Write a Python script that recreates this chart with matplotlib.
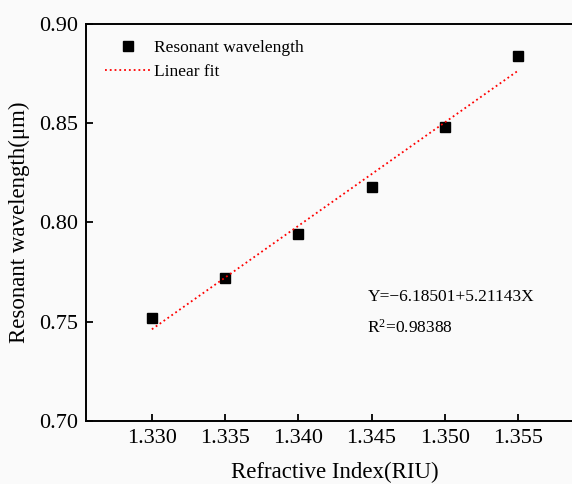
import numpy as np
import matplotlib
matplotlib.use("Agg")
import matplotlib.pyplot as plt

# data
ri = [1.330, 1.335, 1.340, 1.345, 1.350, 1.355]
wavelength = [0.752, 0.772, 0.794, 0.818, 0.848, 0.884]
fit_intercept = -6.18501
fit_slope = 5.21143
r_squared = 0.98388
xticks = [1.330, 1.335, 1.340, 1.345, 1.350, 1.355]
yticks = [0.70, 0.75, 0.80, 0.85, 0.90]

plt.rcParams['font.family'] = ['Liberation Serif', 'DejaVu Serif']
plt.rcParams['mathtext.fontset'] = 'custom'
plt.rcParams['mathtext.rm'] = 'Liberation Serif'
plt.rcParams['mathtext.it'] = 'Liberation Serif:italic'

fig = plt.figure(figsize=(5.72, 4.84), dpi=100, facecolor='#fafafa')
ax = fig.add_axes([0.1503, 0.1302, 0.8706, 0.8202])
ax.set_facecolor('#fafafa')

xfit = np.array([ri[0], ri[-1]])
yfit = fit_intercept + fit_slope * xfit

ax.plot(ri, wavelength, 's', color='black', markersize=7, label='Resonant wavelength')
ax.plot(xfit, yfit, ':', color='red', linewidth=1.3, label='Linear fit')

ax.set_xlim(1.3255, 1.3595)
ax.set_ylim(0.70, 0.90)
ax.set_xticks(xticks)
ax.set_xticklabels([f'{v:.3f}' for v in xticks])
ax.set_yticks(yticks)
ax.set_yticklabels([f'{v:.2f}' for v in yticks])
ax.tick_params(direction='in', length=5, width=1.3, labelsize=16, pad=6)

for sp in ax.spines.values():
    sp.set_linewidth(1.4)

ax.set_xlabel('Refractive Index(RIU)', fontsize=16.5, labelpad=10)
ax.set_ylabel('Resonant wavelength(μm)', fontsize=16.5, labelpad=6)

ax.legend(loc='upper left', frameon=False, fontsize=12.5, handlelength=2.6,
          handletextpad=0.2, borderaxespad=0.3, labelspacing=0.45,
          bbox_to_anchor=(0.014, 0.99))

ax.text(0.565, 0.302, f'Y=−{abs(fit_intercept):.5f}+{fit_slope:.5f}X',
        transform=ax.transAxes, fontsize=12.5)
ax.text(0.565, 0.222, r'R$^{\mathrm{2}}$' + f'={r_squared:.5f}',
        transform=ax.transAxes, fontsize=12.5)

fig.savefig('out.png', dpi=100, facecolor=fig.get_facecolor())
